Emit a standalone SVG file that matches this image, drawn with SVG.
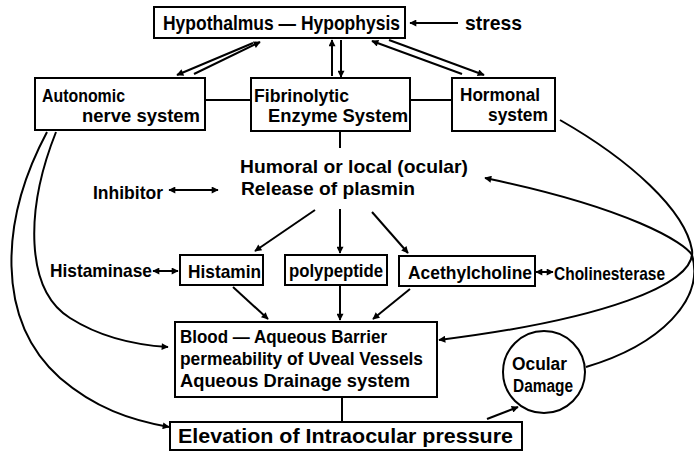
<svg xmlns="http://www.w3.org/2000/svg" width="694" height="455" viewBox="0 0 694 455">
<defs>
<marker id="ah" viewBox="0 0 10 10" refX="9" refY="5" markerWidth="9" markerHeight="7" markerUnits="userSpaceOnUse" orient="auto-start-reverse">
<path d="M0,0 L10,5 L0,10 z" fill="#000"/>
</marker>
</defs>
<style>
.box{fill:#fff;stroke:#000;stroke-width:2}
.t{font-family:"Liberation Sans","DejaVu Sans",sans-serif;font-weight:bold;font-size:19px;fill:#000}
.L{font-size:21px}
.S{font-size:18px}
.c line,.c path{stroke:#000;stroke-width:2;fill:none}
.a{marker-end:url(#ah)}
.d{marker-start:url(#ah);marker-end:url(#ah)}
</style>
<rect width="694" height="455" fill="#fff"/>
<g class="c" id="connectors">
<line class="a" x1="458" y1="23" x2="410" y2="23"/>
<line class="a" x1="253" y1="43" x2="177" y2="75"/>
<line class="a" x1="194" y1="74" x2="260" y2="42"/>
<line class="a" x1="332" y1="76" x2="332" y2="40"/>
<line class="a" x1="341" y1="40" x2="341" y2="77"/>
<line class="a" x1="462" y1="74" x2="372" y2="41"/>
<line class="a" x1="389" y1="40" x2="484" y2="75"/>
<line x1="205" y1="100" x2="250" y2="100"/>
<line x1="410" y1="100" x2="452" y2="100"/>
<line x1="340" y1="131" x2="340" y2="148"/>
<line class="d" x1="169" y1="190" x2="218" y2="190"/>
<line class="a" x1="315" y1="210" x2="255" y2="251"/>
<line class="a" x1="340" y1="209" x2="340" y2="253"/>
<line class="a" x1="372" y1="212" x2="408" y2="253"/>
<line class="d" x1="153" y1="271" x2="178" y2="271"/>
<line class="d" x1="536" y1="272" x2="553" y2="272"/>
<line class="a" x1="233" y1="287" x2="268" y2="319"/>
<line class="a" x1="340" y1="286" x2="340" y2="320"/>
<line class="a" x1="410" y1="289" x2="373" y2="319"/>
<line x1="342" y1="397" x2="342" y2="422"/>
<line class="a" x1="487" y1="419" x2="518" y2="407"/>
<path class="a" d="M56 132 C25 210,25 290,70 318 C100 337,135 345,168 347"/>
<path class="a" d="M47 132 C0 220,-5 320,60 378 C95 408,130 420,169 427"/>
<path class="a" d="M560 120 C630 160,685 210,692 250 C697 285,600 320,439 340"/>
<path class="a" d="M586 367 C660 345,705 300,692 255 C685 243,630 208,485 178"/>
</g>
<g id="hypothalmus">
<rect class="box" x="154" y="7" width="251" height="31"/>
<text class="t L" x="163" y="30" textLength="237" lengthAdjust="spacingAndGlyphs">Hypothalmus — Hypophysis</text>
</g>
<g id="stress">
<text class="t L" x="465" y="30" textLength="57" lengthAdjust="spacingAndGlyphs">stress</text>
</g>
<g id="autonomic">
<rect class="box" x="35" y="78" width="170" height="52"/>
<text class="t S" x="42" y="102" textLength="83" lengthAdjust="spacingAndGlyphs">Autonomic</text>
<text class="t S" x="82" y="122" textLength="118" lengthAdjust="spacingAndGlyphs">nerve system</text>
</g>
<g id="fibrinolytic">
<rect class="box" x="251" y="78" width="159" height="53"/>
<text class="t S" x="254" y="102" textLength="95" lengthAdjust="spacingAndGlyphs">Fibrinolytic</text>
<text class="t S" x="268" y="122" textLength="140" lengthAdjust="spacingAndGlyphs">Enzyme System</text>
</g>
<g id="hormonal">
<rect class="box" x="452" y="78" width="103" height="53"/>
<text class="t S" x="460" y="101" textLength="80" lengthAdjust="spacingAndGlyphs">Hormonal</text>
<text class="t S" x="488" y="121" textLength="60" lengthAdjust="spacingAndGlyphs">system</text>
</g>
<g id="humoral">
<text class="t" x="240" y="173" textLength="228" lengthAdjust="spacingAndGlyphs">Humoral or local (ocular)</text>
<text class="t" x="241" y="195" textLength="174" lengthAdjust="spacingAndGlyphs">Release of plasmin</text>
</g>
<g id="inhibitor">
<text class="t" x="93" y="199" textLength="70" lengthAdjust="spacingAndGlyphs">Inhibitor</text>
</g>
<g id="histaminase">
<text class="t" x="50" y="277" textLength="102" lengthAdjust="spacingAndGlyphs">Histaminase</text>
</g>
<g id="histamin">
<rect class="box" x="180" y="255" width="83" height="30"/>
<text class="t" x="188" y="278" textLength="73" lengthAdjust="spacingAndGlyphs">Histamin</text>
</g>
<g id="polypeptide">
<rect class="box" x="285" y="255" width="102" height="30"/>
<text class="t" x="289" y="277" textLength="94" lengthAdjust="spacingAndGlyphs">polypeptide</text>
</g>
<g id="acethylcholine">
<rect class="box" x="399" y="256" width="136" height="30"/>
<text class="t" x="408" y="279" textLength="124" lengthAdjust="spacingAndGlyphs">Acethylcholine</text>
</g>
<g id="cholinesterase">
<text class="t" x="554" y="280" textLength="111" lengthAdjust="spacingAndGlyphs">Cholinesterase</text>
</g>
<g id="blood">
<rect class="box" x="175" y="322" width="262" height="75"/>
<text class="t" x="180" y="343" textLength="207" lengthAdjust="spacingAndGlyphs">Blood — Aqueous Barrier</text>
<text class="t" x="180" y="365" textLength="243" lengthAdjust="spacingAndGlyphs">permeability of Uveal Vessels</text>
<text class="t" x="180" y="387" textLength="230" lengthAdjust="spacingAndGlyphs">Aqueous Drainage system</text>
</g>
<g id="ocular">
<circle class="box" cx="544" cy="372" r="41"/>
<text class="t S" x="512" y="370" textLength="55" lengthAdjust="spacingAndGlyphs">Ocular</text>
<text class="t S" x="513" y="392" textLength="60" lengthAdjust="spacingAndGlyphs">Damage</text>
</g>
<g id="elevation">
<rect class="box" x="170" y="422" width="352" height="28"/>
<text class="t L" x="178" y="443" textLength="335" lengthAdjust="spacingAndGlyphs">Elevation of  Intraocular pressure</text>
</g>
</svg>
